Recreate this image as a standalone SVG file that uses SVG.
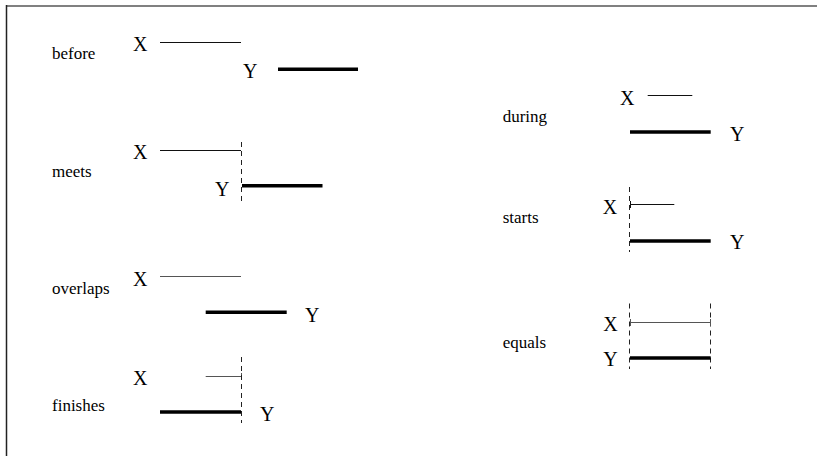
<svg xmlns="http://www.w3.org/2000/svg" width="817" height="456" viewBox="0 0 817 456">
<style>
.lbl{font-family:"Liberation Serif","Times New Roman",serif;font-size:17px;fill:#000}
.var{font-family:"Liberation Serif","Times New Roman",serif;font-size:20px;fill:#000}
.x{stroke:#111;stroke-width:1;fill:none}
.xg{stroke:#555;stroke-width:1;fill:none}
.y{stroke:#000;stroke-width:3.5;fill:none}
.d{stroke:#222;stroke-width:1;stroke-dasharray:5,4;fill:none}
</style>
<rect width="817" height="456" fill="#fff"/>
<g id="frame">
<line x1="6" y1="6" x2="817" y2="6" stroke="#808080" stroke-width="2"/>
<line x1="6.5" y1="5" x2="6.5" y2="456" stroke="#222" stroke-width="1.5"/>
</g>
<g id="before">
<text class="lbl" x="52" y="59">before</text>
<text class="var" x="133" y="50.5">X</text>
<line class="x" x1="160" y1="42.5" x2="241" y2="42.5"/>
<text class="var" x="243" y="78">Y</text>
<line class="y" x1="278" y1="69.3" x2="358" y2="69.3"/>
</g>
<g id="meets">
<text class="lbl" x="52" y="177">meets</text>
<text class="var" x="133" y="159">X</text>
<line class="x" x1="160" y1="150.5" x2="241" y2="150.5"/>
<line class="d" x1="241.5" y1="142" x2="241.5" y2="205"/>
<text class="var" x="215" y="196">Y</text>
<line class="y" x1="242" y1="185.7" x2="322.5" y2="185.7"/>
</g>
<g id="overlaps">
<text class="lbl" x="52" y="294">overlaps</text>
<text class="var" x="133" y="285.5">X</text>
<line class="xg" x1="160" y1="276.5" x2="241" y2="276.5"/>
<line class="y" x1="205.7" y1="312.3" x2="286.7" y2="312.3"/>
<text class="var" x="305" y="321.5">Y</text>
</g>
<g id="finishes">
<text class="lbl" x="52" y="411">finishes</text>
<text class="var" x="133" y="385">X</text>
<line class="xg" x1="205.7" y1="376.5" x2="241" y2="376.5"/>
<line class="xg" x1="241.5" y1="373" x2="241.5" y2="380"/>
<line class="d" x1="241.5" y1="357" x2="241.5" y2="423"/>
<line class="y" x1="160" y1="412" x2="241" y2="412"/>
<text class="var" x="260" y="420.5">Y</text>
</g>
<g id="during">
<text class="lbl" x="502.7" y="122">during</text>
<text class="var" x="620" y="105">X</text>
<line class="x" x1="647.7" y1="95.5" x2="692.3" y2="95.5"/>
<line class="y" x1="630" y1="132" x2="710.7" y2="132"/>
<text class="var" x="730" y="141">Y</text>
</g>
<g id="starts">
<text class="lbl" x="502.7" y="222.5">starts</text>
<line class="d" x1="629.5" y1="187" x2="629.5" y2="252"/>
<text class="var" x="602.7" y="214">X</text>
<line class="x" x1="630" y1="204.5" x2="674.3" y2="204.5"/>
<line class="x" x1="630.5" y1="201" x2="630.5" y2="208"/>
<line class="y" x1="630" y1="241" x2="710.7" y2="241"/>
<text class="var" x="730" y="249.3">Y</text>
</g>
<g id="equals">
<text class="lbl" x="502.7" y="348">equals</text>
<line class="d" x1="629.5" y1="303.5" x2="629.5" y2="369"/>
<line class="d" x1="710.5" y1="303.5" x2="710.5" y2="369"/>
<text class="var" x="603.3" y="330.7">X</text>
<line class="xg" x1="630" y1="322.5" x2="710.7" y2="322.5"/>
<line class="xg" x1="630.5" y1="319" x2="630.5" y2="326"/>
<line class="xg" x1="710.5" y1="319" x2="710.5" y2="326"/>
<text class="var" x="603.3" y="366">Y</text>
<line class="y" x1="630" y1="358" x2="710.7" y2="358"/>
</g>
</svg>
